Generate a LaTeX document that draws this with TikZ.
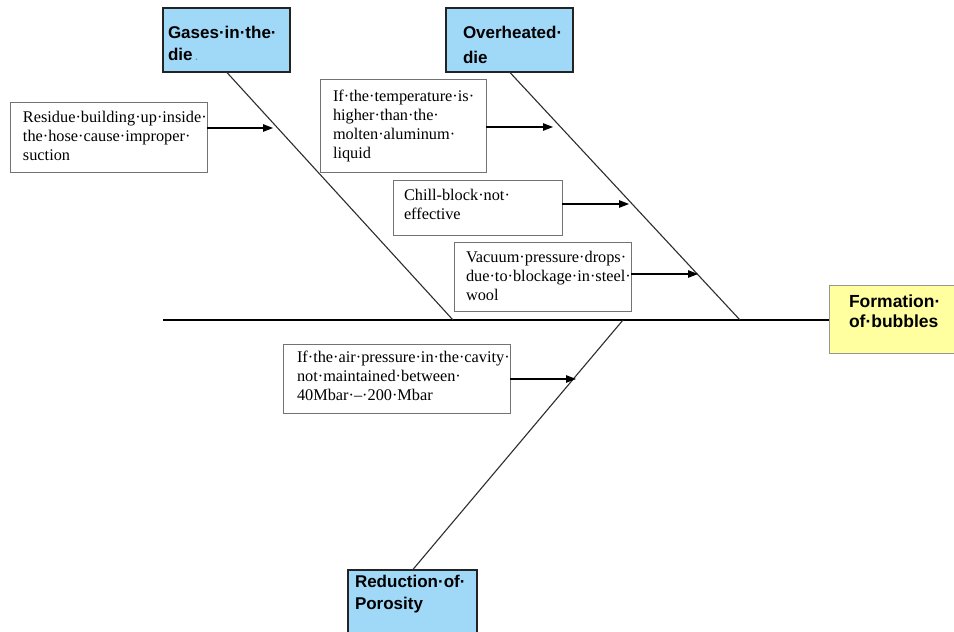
\documentclass[tikz,border=0pt]{standalone}
\usepackage{fontspec}
\setmainfont{Liberation Serif}
\newfontfamily\headfont{Liberation Sans}
\usetikzlibrary{arrows.meta}

\definecolor{headblue}{RGB}{160,216,248}
\definecolor{effyellow}{RGB}{255,255,160}
\definecolor{causeedge}{RGB}{115,115,115}
\definecolor{headedge}{RGB}{35,35,35}
\definecolor{effedge}{RGB}{150,150,150}
\definecolor{boneline}{RGB}{45,45,45}

\begin{document}
\begin{tikzpicture}[x=1pt,y=-1pt,
  cause/.style={draw=causeedge, line width=0.9pt, fill=white, anchor=north west,
    inner ysep=0pt, outer sep=0pt, align=left, font=\fontsize{16.3}{19}\selectfont},
  head/.style={draw=headedge, line width=1.2pt, fill=headblue, anchor=north west,
    inner ysep=0pt, outer sep=0pt, align=left,
    font=\headfont\bfseries\fontsize{17}{22}\selectfont},
  effect/.style={draw=effedge, line width=0.9pt, fill=effyellow, anchor=north west,
    inner ysep=0pt, outer sep=0pt, align=left,
    font=\headfont\bfseries\fontsize{17.5}{20}\selectfont},
  bone/.style={draw=boneline, line width=1.1pt},
  spine/.style={draw=black, line width=1.3pt},
  feed/.style={draw=black, line width=1.2pt, -{Triangle[length=10pt,width=7.5pt]}},
]
\fill[white] (0,0) rectangle (954,632);
\clip (0,0) rectangle (954,632);

% category heads
\node[head, text width=117pt, inner xsep=5pt, text height=30pt, text depth=34pt]
  (gases) at (163,8) {Gases·in·the·\\die\,{\color{gray}\fontsize{9}{9}\selectfont .}};
\node[head, text width=93pt, inner xsep=17pt, text height=30pt, text depth=34pt,
  font=\headfont\bfseries\fontsize{17}{25}\selectfont]
  (overheated) at (446,8) {Overheated·\\die};
\node[head, text width=115pt, inner xsep=7pt, text height=17pt, text depth=60pt]
  (reduction) at (348,570) {Reduction·of·\\Porosity};

% effect
\node[effect, text width=91pt, inner xsep=20pt, text height=22pt, text depth=46pt]
  (bubbles) at (829,285) {Formation·\\of·bubbles};

% causes
\node[cause, text width=171pt, inner xsep=13pt, text height=20pt, text depth=50pt]
  (residue) at (10,102) {Residue·building·up·inside·\\the·hose·cause·improper·\\suction};
\node[cause, text width=140pt, inner xsep=13pt, text height=22pt, text depth=71pt]
  (temperature) at (320,79) {If·the·temperature·is·\\higher·than·the·\\molten·aluminum·\\liquid};
\node[cause, text width=147pt, inner xsep=11pt, text height=20pt, text depth=35pt]
  (chill) at (393,180) {Chill-block·not·\\effective};
\node[cause, text width=153pt, inner xsep=12pt, text height=20pt, text depth=49pt]
  (vacuum) at (454,242) {Vacuum·pressure·drops·\\due·to·blockage·in·steel·\\wool};
\node[cause, text width=199pt, inner xsep=14pt, text height=18pt, text depth=51pt]
  (air) at (283,344) {If·the·air·pressure·in·the·cavity·\\not·maintained·between·\\40Mbar·–·200·Mbar};

% spine and bones
\coordinate (tail) at (163,320);
\coordinate (gasesfoot) at (453,320);
\coordinate (overfoot) at (740,320);
\coordinate (reducfoot) at (623,320);
\draw[spine] (tail) -- (bubbles.west |- tail);
\draw[bone] (gases.south) -- (gasesfoot);
\draw[bone] (overheated.south) -- (overfoot);
\draw[bone] (reduction.north) -- (reducfoot);

% cause arrows
\coordinate (residuetip) at (273,128);
\coordinate (temptip) at (553,127);
\coordinate (chilltip) at (629,204);
\coordinate (vacuumtip) at (698,274);
\coordinate (airtip) at (576,379);
\draw[feed] (residue.east |- residuetip) -- (residuetip);
\draw[feed] (temperature.east |- temptip) -- (temptip);
\draw[feed] (chill.east |- chilltip) -- (chilltip);
\draw[feed] (vacuum.east |- vacuumtip) -- (vacuumtip);
\draw[feed] (air.east |- airtip) -- (airtip);
\end{tikzpicture}
\end{document}
